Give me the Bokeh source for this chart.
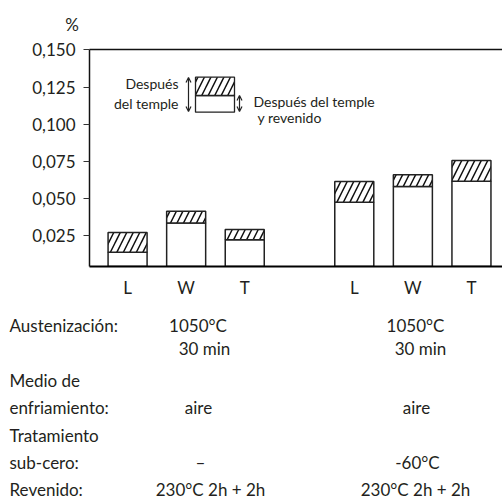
from bokeh.plotting import figure
from bokeh.layouts import column
from bokeh.models import (Range1d, FixedTicker, CustomJSTickFormatter, LinearAxis,
                          Label, Arrow, OpenHead)
from bokeh.core.properties import value
from bokeh.embed import file_html
from bokeh.resources import INLINE

# ---------------- data ----------------
steels = ["L", "W", "T", "L", "W", "T"]
group_index = [0, 0, 0, 1, 1, 1]
item_index = [0, 1, 2, 0, 1, 2]
after_quench = [0.0273, 0.0416, 0.0293, 0.0616, 0.0661, 0.0757]     # Después del temple
after_quench_temper = [0.0141, 0.0338, 0.0224, 0.0477, 0.0582, 0.0618]  # Después del temple y revenido
y_ticks = [0.025, 0.050, 0.075, 0.100, 0.125, 0.150]
y_unit = "%"

row_labels = ["Austenización:", "Medio de", "enfriamiento:", "Tratamiento", "sub-cero:", "Revenido:"]
group1_values = ["1050°C", "30 min", "aire", "–", "230°C 2h + 2h"]
group2_values = ["1050°C", "30 min", "aire", "-60°C", "230°C 2h + 2h"]

# ---------------- layout ----------------
FONT = "Lato"
TXT = "#231f20"
W = 502
STRIP_H = 35
CHART_H = 265
TABLE_H = 200
GROUP_STEP = 3.87
BAR_W = 0.666
xpos = [g * GROUP_STEP + i for g, i in zip(group_index, item_index)]

X0, X1 = -0.65, 6.40
Y0, Y1 = 0.0045, 0.1503
FRAME_L, FRAME_T, FRAME_W, FRAME_H = 89, 49, 413, 217


def xd(px):
    return X0 + (px - FRAME_L) * (X1 - X0) / FRAME_W


def yd(py):
    return Y0 + (FRAME_T + FRAME_H - py) * (Y1 - Y0) / FRAME_H


def blank(height):
    f = figure(width=W, height=height, x_range=Range1d(0, W), y_range=Range1d(height, 0),
               output_backend="svg", toolbar_location=None, min_border=0,
               frame_align=False)
    f.axis.visible = False
    f.grid.visible = False
    f.outline_line_color = None
    return f


# ---- top strip with the unit ----
strip = blank(STRIP_H)
strip.text(x=[71.5], y=[24], text=[y_unit], text_align="center", text_baseline="middle",
           text_font=value(FONT), text_font_size="17px", text_color=TXT)

# ---- chart ----
p = figure(width=W, height=CHART_H, x_range=Range1d(X0, X1), y_range=Range1d(Y0, Y1),
           output_backend="svg", toolbar_location=None, frame_align=False,
           min_border_left=FRAME_L, min_border_right=0,
           min_border_top=FRAME_T - STRIP_H,
           min_border_bottom=CHART_H - (FRAME_T - STRIP_H) - FRAME_H)
p.outline_line_color = None
p.xgrid.grid_line_color = None
p.ygrid.grid_line_color = None

ya = p.yaxis[0]
ya.ticker = FixedTicker(ticks=y_ticks)
ya.formatter = CustomJSTickFormatter(code="return tick.toFixed(3).replace('.', ',');")
ya.major_tick_out = 6
ya.major_tick_in = 0
ya.minor_tick_out = 0
ya.minor_tick_in = 0
ya.major_label_standoff = 8
ya.major_label_text_font = FONT
ya.major_label_text_font_size = "17px"
ya.major_label_text_color = TXT
ya.axis_line_width = 1.5
ya.axis_line_color = "#111111"
ya.major_tick_line_color = "#333333"

xa = p.xaxis[0]
xa.ticker = FixedTicker(ticks=xpos)
xa.formatter = CustomJSTickFormatter(args=dict(pos=xpos, lab=steels), code="""
let b = 0, d = 1e9;
for (let i = 0; i < pos.length; i++) { const e = Math.abs(pos[i] - tick); if (e < d) { d = e; b = i; } }
return lab[b];
""")
xa.major_tick_out = 0
xa.major_tick_in = 0
xa.minor_tick_out = 0
xa.minor_tick_in = 0
xa.major_label_standoff = 10
xa.major_label_text_font = FONT
xa.major_label_text_font_size = "17px"
xa.major_label_text_color = TXT
xa.axis_line_width = 2
xa.axis_line_color = "#000000"

top = LinearAxis(ticker=FixedTicker(ticks=[]), major_tick_out=0, major_tick_in=0,
                 minor_tick_out=0, minor_tick_in=0, major_label_text_font_size="0px",
                 axis_line_width=1.5, axis_line_color="#111111")
p.add_layout(top, "above")

p.vbar(x=xpos, width=BAR_W, bottom=0, top=after_quench_temper,
       fill_color="white", line_color="#222222", line_width=1.5)
p.vbar(x=xpos, width=BAR_W, bottom=after_quench_temper, top=after_quench,
       fill_color="white", line_color="#222222", line_width=1.5,
       hatch_pattern="/", hatch_scale=13, hatch_weight=1.5, hatch_color="#111111")

# legend key
p.quad(left=[xd(195)], right=[xd(234)], bottom=[yd(111.7)], top=[yd(95)],
       fill_color="white", line_color="#222222", line_width=1.3)
p.quad(left=[xd(195)], right=[xd(234)], bottom=[yd(95)], top=[yd(76.7)],
       fill_color="white", line_color="#222222", line_width=1.3,
       hatch_pattern="/", hatch_scale=13, hatch_weight=1.5, hatch_color="#111111")
for ax, ay0, ay1 in [(188, 77, 111), (239, 95, 111)]:
    p.add_layout(Arrow(x_start=xd(ax), y_start=yd(ay1), x_end=xd(ax), y_end=yd(ay0),
                       start=OpenHead(size=5, line_width=1.2, line_color="#222222"),
                       end=OpenHead(size=5, line_width=1.2, line_color="#222222"),
                       line_width=1.2, line_color="#222222"))


def lab(text, px, py, align):
    p.add_layout(Label(x=xd(px), y=yd(py), text=text, text_align=align,
                       text_baseline="middle", text_font=FONT, text_font_size="14px",
                       text_color=TXT))


lab("Después", 178, 83, "right")
lab("del temple", 178, 102.7, "right")
lab("Después del temple", 253, 101, "left")
lab("y revenido", 257, 116.7, "left")

# ---- table of treatments ----
TOP = STRIP_H + CHART_H
tab = blank(TABLE_H)
row_y = [324.5, 380, 406.7, 435, 461.7, 489]
tab.text(x=[9] * len(row_labels), y=[yy - TOP for yy in row_y], text=row_labels,
         text_align="left", text_baseline="middle",
         text_font=value(FONT), text_font_size="17px", text_color=TXT)
val_y = [324.5, 347.5, 406.7, 461.7, 489]
g1_x = [197.5, 204, 198, 200, 210]
g2_x = [415, 420, 416, 417, 415]
tab.text(x=g1_x + g2_x, y=[yy - TOP for yy in val_y + val_y], text=group1_values + group2_values,
         text_align="center", text_baseline="middle",
         text_font=value(FONT), text_font_size="17px", text_color=TXT)

layout = column(strip, p, tab, spacing=0)
open("out.html", "w").write(file_html(layout, INLINE))
